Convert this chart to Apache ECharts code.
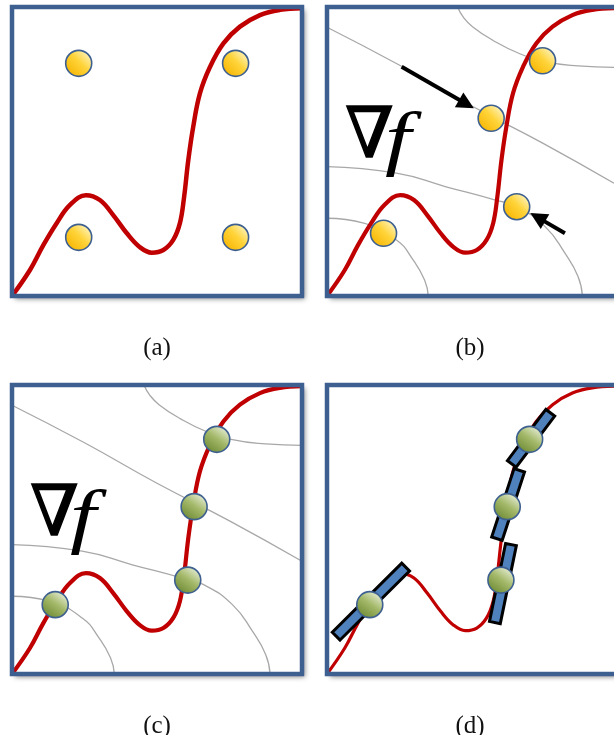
<!DOCTYPE html>
<html>
<head>
<meta charset="utf-8">
<script src="https://cdn.jsdelivr.net/npm/echarts@6/dist/echarts.min.js"></script>
<style>
html,body{margin:0;padding:0;background:#fff;}
#chart{width:614px;height:735px;}
</style>
</head>
<body>
<div id="chart"></div>
<script>
// ---------- data (panel-local coordinates, 0..100 on both axes) ----------
var curve = [[0,0],[6.2,9.0],[10.8,17.6],[15.4,25.2],[20.0,31.5],[25.5,34.9],[30.3,33.2],[34.9,28.0],
  [39.6,21.7],[44.1,16.9],[48.2,15.0],[52.2,15.9],[55.6,19.4],[57.9,25.2],[59.3,33.9],[60.8,47.1],
  [62.5,58.6],[64.8,70.1],[68.3,79.3],[72.9,87.4],[78.6,93.2],[85.5,97.2],[92.4,99.0],[100,99.6]];
var contourTop = [[45.5,100],[47.5,96.5],[50.7,93.2],[57.6,88.6],[66.8,84.0],[76.0,81.1],[87.5,79.6],[100,79.1]];
var contourDiag = [[0,93],[25,80],[50,66],[75,53],[100,39]];
var contourMid = [[0,44.8],[24.2,42.5],[41.5,37.8],[58.7,33.2],[66.1,30.9],[76.0,24.0],[82.9,14.8],[87.5,6.7],[89,0]];
var contourLow = [[0,26.9],[12.8,25.2],[24.2,19.4],[30,12.5],[34,5.5],[35.3,0]];
var pointsA = [[23,80.5],[77.1,80.5],[23,20.3],[77.1,20.3]];
var pointsB = [[75.1,81.4],[57.2,61.5],[66.1,30.9],[19.7,21.7]];
var pointsC = [[70.6,81.2],[62.8,57.9],[60.6,32.5],[14.9,24.0]];
var pointsD = [[70.6,81.2],[62.8,57.9],[60.6,32.5],[14.9,24.0]];
var arrowsB = [[[26.0,79.3],[48.6,66.4]],[[82.9,21.7],[73.4,27.2]]];
var tangentsD = [[3.2,13.1,27.4,37.0],[58.5,17.8,64.1,44.8],[59.2,46.8,67.0,70.5],[64.4,72.7,77.8,90.4]];
var panelLabels = ['(a)','(b)','(c)','(d)'];

// ---------- layout ----------
var panels = [
  {left:12, top:7}, {left:327, top:7}, {left:12, top:385}, {left:327, top:385}
];
var PW = 290, PH = 289;
var borderColor = '#3e6090';

var chart = echarts.init(document.getElementById('chart'), null, {renderer:'canvas'});

var grids = [], xAxes = [], yAxes = [], series = [], graphics = [];
panels.forEach(function(p, i){
  grids.push({left:p.left, top:p.top, width:PW, height:PH, show:true, backgroundColor:'#fff',
    borderWidth:0, shadowBlur:5, shadowColor:'rgba(0,0,0,0.45)', shadowOffsetX:3, shadowOffsetY:3});
  xAxes.push({gridIndex:i, type:'value', min:0, max:100, show:false});
  yAxes.push({gridIndex:i, type:'value', min:0, max:100, show:false});
  graphics.push({type:'rect', z:100, silent:true,
    shape:{x:p.left, y:p.top, width:PW, height:PH},
    style:{fill:null, stroke:borderColor, lineWidth:4.5}});
  graphics.push({type:'text', z:100, silent:true,
    x:p.left + PW/2 + (i % 2 ? -2 : 0), y:p.top + PH + 52,
    style:{text:panelLabels[i], font:'25px "Liberation Serif", serif', fill:'#111',
      align:'center', verticalAlign:'middle'}});
});

function contour(idx, data){
  series.push({type:'line', xAxisIndex:idx, yAxisIndex:idx, data:data, smooth:0.5, symbol:'none',
    lineStyle:{color:'#a8a8a8', width:1.3}, z:1, silent:true});
}
function redCurve(idx, w){
  series.push({type:'line', xAxisIndex:idx, yAxisIndex:idx, data:curve, smooth:0.4, symbol:'none',
    lineStyle:{color:'#c00000', width:w}, z:2, silent:true});
}
var yellow = {type:'linear', x:0.9, y:0.1, x2:0.1, y2:0.9,
  colorStops:[{offset:0,color:'#fff6c8'},{offset:0.45,color:'#ffd43a'},{offset:1,color:'#f7b400'}]};
var green = {type:'linear', x:0.8, y:0.1, x2:0.2, y2:0.95,
  colorStops:[{offset:0,color:'#e2ead0'},{offset:0.45,color:'#a4b96a'},{offset:1,color:'#6e8a34'}]};
function dots(idx, data, col){
  series.push({type:'scatter', xAxisIndex:idx, yAxisIndex:idx, data:data, symbol:'circle', symbolSize:26,
    itemStyle:{color:col, borderColor:'#3e6090', borderWidth:1.6, opacity:1}, z:5, silent:true});
}

// (a)
redCurve(0, 4.5);
dots(0, pointsA, yellow);
// (b)
[contourTop, contourDiag, contourMid, contourLow].forEach(function(c){ contour(1, c); });
redCurve(1, 4.2);
series.push({type:'lines', coordinateSystem:'cartesian2d', xAxisIndex:1, yAxisIndex:1,
  data:arrowsB.map(function(a){ return {coords:a}; }),
  symbol:['none','triangle'], symbolSize:[0,17],
  lineStyle:{color:'#000', width:4, opacity:1}, z:4, silent:true});
dots(1, pointsB, yellow);
// (c)
[contourTop, contourDiag, contourMid, contourLow].forEach(function(c){ contour(2, c); });
redCurve(2, 4.2);
dots(2, pointsC, green);
// (d)
redCurve(3, 3.2);
series.push({type:'custom', coordinateSystem:'cartesian2d', xAxisIndex:3, yAxisIndex:3,
  data:tangentsD, z:4, silent:true,
  encode:{x:[0,2], y:[1,3]},
  renderItem:function(params, api){
    var p1 = api.coord([api.value(0), api.value(1)]);
    var p2 = api.coord([api.value(2), api.value(3)]);
    var dx = p2[0]-p1[0], dy = p2[1]-p1[1], L = Math.sqrt(dx*dx+dy*dy);
    var hw = 5.5;
    var nx = -dy/L*hw, ny = dx/L*hw;
    return {type:'polygon',
      shape:{points:[[p1[0]+nx,p1[1]+ny],[p2[0]+nx,p2[1]+ny],[p2[0]-nx,p2[1]-ny],[p1[0]-nx,p1[1]-ny]]},
      style:{fill:'#4f81bd', stroke:'#000', lineWidth:3, lineJoin:'miter'}};
  }});
dots(3, pointsD, green);

// ∇f labels in (b) and (c)
[1,2].forEach(function(i){
  var p = panels[i];
  graphics.push({type:'text', z:90, silent:true, x:p.left+18, y:p.top+132,
    style:{text:'\u2207', font:'70px "DejaVu Serif", serif', fill:'#000', stroke:'#000', lineWidth:1.4,
      align:'left', verticalAlign:'middle'}});
  graphics.push({type:'text', z:90, silent:true, x:p.left+58, y:p.top+136, scaleX:1.3,
    style:{text:'f', font:'italic 72px "Liberation Serif", serif', fill:'#000', align:'left', verticalAlign:'middle'}});
});

chart.setOption({
  animation:false,
  backgroundColor:'#fff',
  grid:grids, xAxis:xAxes, yAxis:yAxes, series:series, graphic:graphics
});
</script>
</body>
</html>
